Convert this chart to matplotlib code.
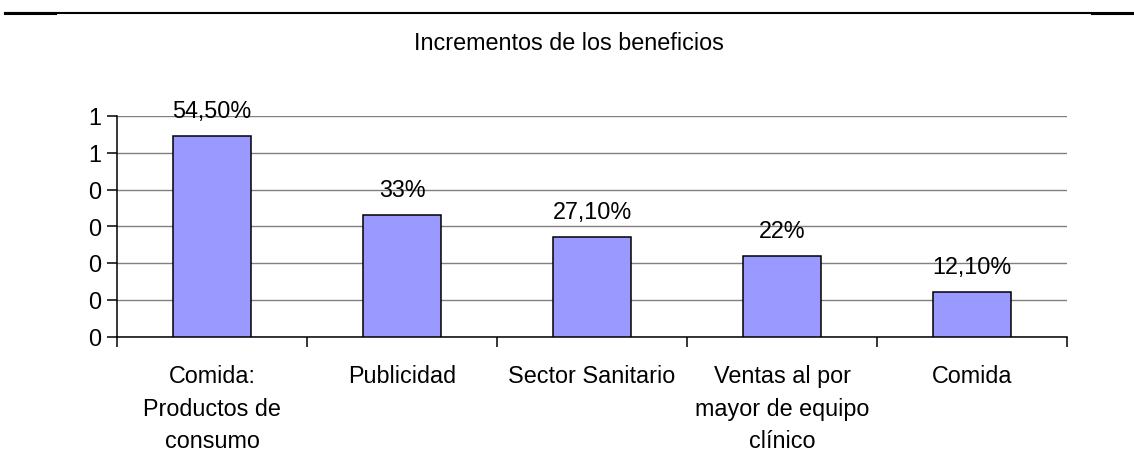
import matplotlib
matplotlib.use("Agg")
import matplotlib.pyplot as plt
from matplotlib.lines import Line2D

categories = ["Comida:\nProductos de\nconsumo", "Publicidad", "Sector Sanitario",
              "Ventas al por\nmayor de equipo\nclínico", "Comida"]
values = [0.545, 0.33, 0.271, 0.22, 0.121]
value_labels = ["54,50%", "33%", "27,10%", "22%", "12,10%"]
y_ticks = [0.0, 0.1, 0.2, 0.3, 0.4, 0.5, 0.6]
y_tick_labels = ["0", "0", "0", "0", "0", "1", "1"]
title = "Incrementos de los beneficios"

plt.rcParams['font.family'] = ['Liberation Sans', 'DejaVu Sans']
FS = 16.8

W, H = 1134, 473
fig = plt.figure(figsize=(W / 100, H / 100), dpi=100)
fig.patch.set_facecolor("white")

ax = fig.add_axes([117 / W, 1 - 337 / H, (1067 - 117) / W, (337 - 116) / H])
x = list(range(len(categories)))
ax.bar(x, values, width=0.41, color="#9999FF", edgecolor="black", linewidth=1.1, zorder=3)

ax.set_xlim(-0.5, len(categories) - 0.5)
ax.set_ylim(y_ticks[0], y_ticks[-1])
ax.set_yticks(y_ticks)
ax.set_yticklabels(y_tick_labels, fontsize=FS)
ax.yaxis.grid(True, color="#808080", linewidth=1.0, zorder=0)
ax.set_axisbelow(True)

# category boundaries as major ticks, labels at minor ticks
ax.set_xticks([i - 0.5 for i in range(len(categories) + 1)])
ax.set_xticklabels([""] * (len(categories) + 1))
ax.set_xticks(x, minor=True)
ax.set_xticklabels(categories, minor=True, fontsize=FS, linespacing=1.51, va="top")
ax.tick_params(axis="x", which="major", direction="out", length=7, width=1.1, color="black")
ax.tick_params(axis="x", which="minor", length=0, pad=20.5)
ax.tick_params(axis="y", direction="out", length=7, width=1.1, pad=4)

for s in ["top", "right"]:
    ax.spines[s].set_visible(False)
for s in ["left", "bottom"]:
    ax.spines[s].set_color("black")
    ax.spines[s].set_linewidth(1.1)

for xi, v, lab in zip(x, values, value_labels):
    ax.annotate(lab, (xi, v), xytext=(0, 13), textcoords="offset points",
                ha="center", va="baseline", fontsize=FS)

fig.text(0.502, 1 - 50 / H, title, ha="center", va="baseline", fontsize=FS)

# top rule
fig.add_artist(Line2D([5 / W, 1.0], [1 - 13 / H, 1 - 13 / H], color="black", linewidth=1.5))
fig.add_artist(Line2D([5 / W, 55 / W], [1 - 13.5 / H, 1 - 13.5 / H], color="black", linewidth=2.2))
fig.add_artist(Line2D([1092 / W, 1.0], [1 - 14.3 / H, 1 - 14.3 / H], color="black", linewidth=1.5))

fig.savefig("out.png", dpi=100, facecolor="white")
